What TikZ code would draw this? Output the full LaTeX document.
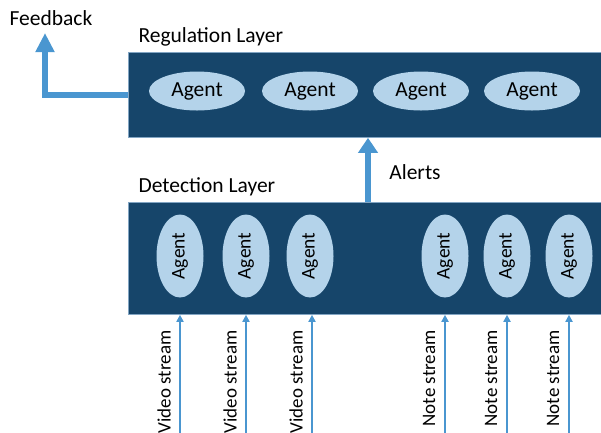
\documentclass[tikz,border=0pt]{standalone}
\usepackage{fontspec}
\setmainfont{Carlito}
\usepackage{xcolor}
\usepackage{tikz}
\usetikzlibrary{shapes.geometric,arrows.meta,positioning,calc}

\definecolor{layerblue}{RGB}{22,69,106}
\definecolor{layeredge}{RGB}{130,165,195}
\definecolor{agentblue}{RGB}{180,211,234}
\definecolor{flowblue}{RGB}{74,150,208}

\tikzset{
  layer/.style={draw=layeredge, fill=layerblue, line width=0.8pt, anchor=north west, inner sep=0pt},
  agent/.style={ellipse, fill=agentblue, inner sep=0pt, font=\fontsize{21.5}{24}\selectfont},
  bigflow/.style={draw=flowblue, line width=6.5pt, -{Triangle[width=19pt,length=15pt]}},
  stream/.style={draw=flowblue, line width=2pt, -{Triangle[width=7pt,length=7pt]}},
  lbl/.style={font=\fontsize{21.5}{24}\selectfont},
  streamlbl/.style={font=\fontsize{19}{22}\selectfont, rotate=90, anchor=east},
}

\begin{document}
\begin{tikzpicture}[x=1pt,y=-1pt]
\useasboundingbox (0,0) rectangle (601,432);

% Layers
\node[layer, minimum width=476pt, minimum height=85pt] (reg) at (128,52) {};
\node[layer, minimum width=476pt, minimum height=112pt] (det) at (128,202) {};
\node[lbl, anchor=west] (regtxt) at (135,37) {Regulation Layer};
\node[lbl, anchor=west] (dettxt) at (135,187) {Detection Layer};

% Regulation agents
\foreach \i/\x in {1/197,2/310,3/421,4/532}
  \node[agent, minimum width=96pt, minimum height=39pt] (ra\i) at (\x,91) {Agent};

% Detection agents
\foreach \i/\x in {1/180,2/246,3/310,4/445,5/507,6/569}
  \node[agent, font=\fontsize{19.5}{22}\selectfont, rotate=90, minimum width=83pt, minimum height=47pt] (da\i) at (\x,256) {Agent};

% Input streams
\foreach \i/\x/\t in {1/180/Video,2/246/Video,3/312/Video,4/445/Note,5/507/Note,6/569/Note} {
  \coordinate (s\i) at (\x,434);
  \draw[stream] (s\i) -- (s\i |- det.south);
  \node[streamlbl] (st\i) at ($(s\i |- 0,327)+(-16,0)$) {\t{} stream};
}

% Alerts
\coordinate (al) at (368,0);
\draw[bigflow] (al |- det.north) -- (al |- reg.south);
\node[lbl] (altxt) at (415,172) {Alerts};

% Feedback
\coordinate (fb) at (45,33);
\draw[bigflow, -{Triangle[width=18pt,length=19pt]}] (reg.west) -| (fb);
\node[lbl] (fbtxt) at (51,18) {Feedback};

\end{tikzpicture}
\end{document}
